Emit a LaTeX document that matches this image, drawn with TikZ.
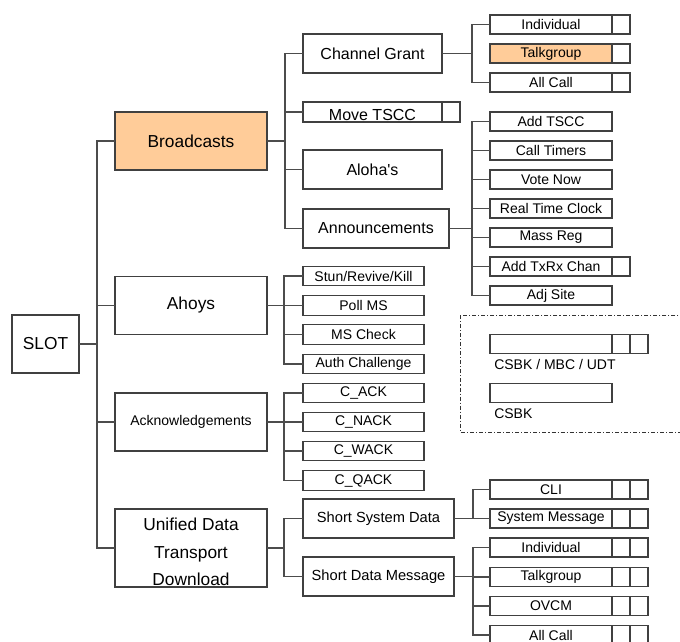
\documentclass[tikz,border=0pt]{standalone}
\usepackage{fontspec}
\setmainfont{Liberation Sans}
\usepackage{tikz}
\usetikzlibrary{positioning}
\definecolor{peach}{RGB}{255,204,153}

\begin{document}
\begin{tikzpicture}[
  x=0.75pt,y=-0.75pt,
  box/.style={rectangle,draw=black!75,line width=0.9pt,fill=white,
              inner sep=0pt,outer sep=0pt,align=center},
  top/.style={box,font=\fontsize{13}{20.6}\selectfont,minimum width=114pt,minimum height=43.5pt},
  mid/.style={box,font=\fontsize{12}{14}\selectfont,minimum width=104.25pt,minimum height=29.25pt},
  sub/.style={box,font=\fontsize{10.5}{12}\selectfont,minimum width=90.75pt,minimum height=14.5pt},
  leaf/.style={box,font=\fontsize{10.5}{12}\selectfont,minimum width=91.5pt,minimum height=14.25pt},
  cell/.style={box,minimum width=13.5pt,minimum height=14.25pt},
  hot/.style={fill=peach},
  link/.style={draw=black!70,line width=0.9pt},
  legendframe/.style={draw=black!80,line width=0.6pt,
              dash pattern=on 3pt off 1.5pt on 0.8pt off 1.5pt},
  legendlbl/.style={anchor=west,inner sep=0pt,font=\fontsize{10.5}{12}\selectfont}
]
\useasboundingbox (0,0) rectangle (680,641);

% ===================== root and first level =====================
\node[top,minimum width=50.25pt] (slot) at (45.5,344) {SLOT};
\node[top,hot] (bcast) at (191,141) {Broadcasts};
\node[top] (ahoys) at (191,305.5) {Ahoys};
\node[top,font=\fontsize{10.5}{12}\selectfont] (acks) at (191,422) {Acknowledgements};
\node[top,minimum height=58.5pt] (udt) at (191,548)
  {\rule{0pt}{15.5pt}Unified Data\\Transport\\Download};

% ===================== broadcasts =====================
\node[mid] (cgrant) at (372.5,53.5) {Channel Grant};
\node[mid,minimum height=15pt,text height=13pt,text depth=0pt] (movetscc) at (372.5,112) {Move TSCC};
\node[cell,minimum height=15pt,right=0pt of movetscc] (movetsccc) {};
\node[mid] (aloha) at (372.5,169.5) {Aloha\textquotesingle s};
\node[mid,minimum width=109.5pt] (announce) at (376,228.5) {Announcements};

% channel grant types
\node[leaf] (cgind) at (551,24.5) {Individual};
\node[cell,right=0pt of cgind] (cgindc) {};
\node[leaf,hot] (cgtg) at (551,53.5) {Talkgroup};
\node[cell,right=0pt of cgtg] (cgtgc) {};
\node[leaf] (cgall) at (551,82.5) {All Call};
\node[cell,right=0pt of cgall] (cgallc) {};

% announcement types
\node[leaf] (addtscc) at (551,121.5) {Add TSCC};
\node[leaf] (calltim) at (551,150.5) {Call Timers};
\node[leaf] (votenow) at (551,179.5) {Vote Now};
\node[leaf] (rtclock) at (551,208.5) {Real Time Clock};
\node[leaf] (massreg) at (551,237.5) {Mass Reg};
\node[leaf] (addtxrx) at (551,266.5) {Add TxRx Chan};
\node[cell,right=0pt of addtxrx] (addtxrxc) {};
\node[leaf] (adjsite) at (551,295.5) {Adj Site};

% ===================== ahoys =====================
\node[sub] (stun) at (363.5,276) {Stun/Revive/Kill};
\node[sub] (pollms) at (363.5,305.5) {Poll MS};
\node[sub] (mscheck) at (363.5,334.5) {MS Check};
\node[sub] (authch) at (363.5,364) {Auth Challenge};

% ===================== acknowledgements =====================
\node[sub] (cack) at (363.5,393) {C\_ACK};
\node[sub] (cnack) at (363.5,422) {C\_NACK};
\node[sub] (cwack) at (363.5,451) {C\_WACK};
\node[sub] (cqack) at (363.5,480.5) {C\_QACK};

% ===================== unified data transport =====================
\node[mid,minimum width=113.25pt,font=\fontsize{11}{13}\selectfont] (ssd) at (378.5,518.5) {Short System Data};
\node[mid,minimum width=113.25pt,font=\fontsize{11}{13}\selectfont] (sdm) at (378.5,576.5) {Short Data Message};

\node[leaf] (cli) at (551,489.5) {CLI};
\node[cell,right=0pt of cli] (clic1) {};
\node[cell,right=0pt of clic1] (clic2) {};
\node[leaf] (sysmsg) at (551,518.5) {System Message};
\node[cell,right=0pt of sysmsg] (sysmsgc1) {};
\node[cell,right=0pt of sysmsgc1] (sysmsgc2) {};

\node[leaf] (sdind) at (551,547.5) {Individual};
\node[cell,right=0pt of sdind] (sdindc1) {};
\node[cell,right=0pt of sdindc1] (sdindc2) {};
\node[leaf] (sdtg) at (551,577) {Talkgroup};
\node[cell,right=0pt of sdtg] (sdtgc1) {};
\node[cell,right=0pt of sdtgc1] (sdtgc2) {};
\node[leaf] (ovcm) at (551,606) {OVCM};
\node[cell,right=0pt of ovcm] (ovcmc1) {};
\node[cell,right=0pt of ovcmc1] (ovcmc2) {};
\node[leaf] (sdall) at (551,635) {All Call};
\node[cell,right=0pt of sdall] (sdallc1) {};
\node[cell,right=0pt of sdallc1] (sdallc2) {};

% ===================== legend =====================
\draw[legendframe] (460,315) rectangle (700,432);
\node[leaf] (leg1) at (551,344) {};
\node[cell,right=0pt of leg1] (leg1c1) {};
\node[cell,right=0pt of leg1c1] (leg1c2) {};
\node[legendlbl] (leg1lbl) at (494,364) {CSBK / MBC / UDT};
\node[leaf] (leg2) at (551,393) {};
\node[legendlbl] (leg2lbl) at (494,414) {CSBK};

% ===================== links =====================
\draw[link] (slot.east) -- ++(18,0) coordinate (slotj)
  (slotj) |- (bcast.west) (slotj) |- (ahoys.west)
  (slotj) |- (acks.west) (slotj) |- (udt.west);
\draw[link] (bcast.east) -- ++(18,0) coordinate (bcastj)
  (bcastj) |- (cgrant.west) (bcastj) |- (movetscc.west)
  (bcastj) |- (aloha.west) (bcastj) |- (announce.west);
\draw[link] (cgrant.east) -- ++(30,0) coordinate (cgrantj)
  (cgrantj) |- (cgind.west) (cgrantj) |- (cgall.west);
\draw[link] (announce.east) -- ++(23,0) coordinate (announcej)
  (announcej) |- (addtscc.west) (announcej) |- (calltim.west)
  (announcej) |- (votenow.west) (announcej) |- (rtclock.west)
  (announcej) |- (massreg.west) (announcej) |- (addtxrx.west)
  (announcej) |- (adjsite.west);
\draw[link] (ahoys.east) -- ++(17,0) coordinate (ahoysj)
  (ahoysj) |- (stun.west) (ahoysj) |- (pollms.west)
  (ahoysj) |- (mscheck.west) (ahoysj) |- (authch.west);
\draw[link] (acks.east) -- ++(17,0) coordinate (acksj)
  (acksj) |- (cack.west) (acksj) |- (cnack.west)
  (acksj) |- (cwack.west) (acksj) |- (cqack.west);
\draw[link] (udt.east) -- ++(17,0) coordinate (udtj)
  (udtj) |- (ssd.west) (udtj) |- (sdm.west);
\draw[link] (ssd.east) -- ++(19,0) coordinate (ssdj)
  (ssdj) |- (cli.west) (ssdj) |- (sysmsg.west);
\draw[link] (sdm.east) -- ++(19,0) coordinate (sdmj)
  (sdmj) |- (sdind.west) (sdmj) |- (sdtg.west)
  (sdmj) |- (ovcm.west) (sdmj) |- (sdall.west);

\end{tikzpicture}
\end{document}
